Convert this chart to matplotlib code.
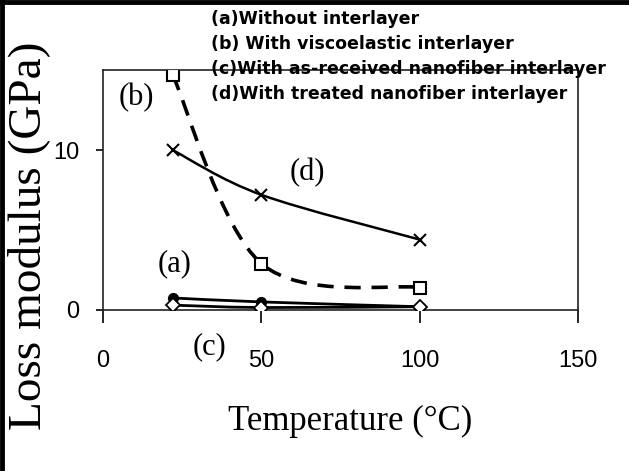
import numpy as np
import matplotlib
matplotlib.use("Agg")
import matplotlib.pyplot as plt
from matplotlib.path import Path
from matplotlib.patches import PathPatch
from matplotlib.lines import Line2D

# data
temp = [22, 50, 100]
loss_a = [0.75, 0.5, 0.2]      # without interlayer
loss_b = [14.7, 2.9, 1.4]      # viscoelastic interlayer
loss_c = [0.3, 0.15, 0.2]      # as-received nanofiber interlayer
loss_d = [10.0, 7.2, 4.4]      # treated nanofiber interlayer

legend_lines = ["(a)Without interlayer",
                "(b) With viscoelastic interlayer",
                "(c)With as-received nanofiber interlayer",
                "(d)With treated nanofiber interlayer"]
xticks = [0, 50, 100, 150]
yticks = [0, 10]

serif = "Liberation Serif"
sans = "Liberation Sans"


def smooth_path(xs, ys):
    # excel-style smoothed line (catmull-rom as cubic beziers)
    pts = np.column_stack([xs, ys]).astype(float)
    n = len(pts)
    verts = [pts[0]]
    codes = [Path.MOVETO]
    for i in range(n - 1):
        p0 = pts[max(i - 1, 0)]
        p1 = pts[i]
        p2 = pts[i + 1]
        p3 = pts[min(i + 2, n - 1)]
        verts += [p1 + (p2 - p0) / 6, p2 - (p3 - p1) / 6, p2]
        codes += [Path.CURVE4] * 3
    return Path(verts, codes)


fig = plt.figure(figsize=(6.29, 4.71), dpi=100)
ax = fig.add_axes([0.1638, 0.342, 0.7552, 0.509])

# lines
ax.add_patch(PathPatch(smooth_path(temp, loss_d), fill=False, lw=1.8, ec="black"))
ax.add_patch(PathPatch(smooth_path(temp, loss_b), fill=False, lw=2.6, ec="black",
                       linestyle=(0, (4.5, 3))))
ax.add_patch(PathPatch(smooth_path(temp, loss_a), fill=False, lw=2.0, ec="black"))
ax.add_patch(PathPatch(smooth_path(temp, loss_c), fill=False, lw=2.0, ec="black"))

# markers
ax.plot(temp, loss_d, ls="none", marker="x", ms=9, mew=1.5, color="black", zorder=4)
ax.plot(temp, loss_b, ls="none", marker="s", ms=9, mew=1.5, mfc="white",
        mec="black", zorder=4)
ax.plot(temp, loss_a, ls="none", marker="o", ms=7, color="black", zorder=4)
ax.plot(temp, loss_c, ls="none", marker="D", ms=7, mew=1.3, mfc="white",
        mec="black", zorder=5)

ax.set_xlim(0, 150)
ax.set_ylim(0, 15)
ax.set_xticks(xticks)
ax.set_yticks(yticks)
ax.tick_params(axis="x", direction="out", length=9, width=1.2, pad=20,
               labelsize=17)
ax.tick_params(axis="y", direction="out", length=5, width=1.2, pad=12,
               labelsize=17)
for lab in ax.get_xticklabels() + ax.get_yticklabels():
    lab.set_family(sans)
for s in ax.spines.values():
    s.set_linewidth(1.2)
    s.set_color("#222222")

# series labels
ax.text(10.4, 13.3, "(b)", family=serif, fontsize=22, ha="center", va="center")
ax.text(64.4, 8.6, "(d)", family=serif, fontsize=22, ha="center", va="center")
ax.text(22.7, 2.9, "(a)", family=serif, fontsize=22, ha="center", va="center")
ax.text(33.5, -2.3, "(c)", family=serif, fontsize=22, ha="center", va="center",
        clip_on=False)

# axis titles
fig.text(0.045, 0.500, "Loss modulus (GPa)", family=serif, fontsize=34,
         rotation=90, ha="center", va="center")
fig.text(0.557, 0.106, "Temperature (\u00b0C)", family=serif, fontsize=25,
         ha="center", va="center")

# legend text block
for i, txt in enumerate(legend_lines):
    fig.text(0.335, 0.960 - i * 0.0535, txt, family="DejaVu Sans",
             fontweight="bold", fontsize=12.5, ha="left", va="center")

# black border on left and top of the scan
fig.add_artist(Line2D([0.003, 0.003], [0, 1], lw=3.5, color="black",
                      transform=fig.transFigure))
fig.add_artist(Line2D([0, 1], [0.996, 0.996], lw=3.5, color="black",
                      transform=fig.transFigure))

fig.savefig("out.png", dpi=100)
